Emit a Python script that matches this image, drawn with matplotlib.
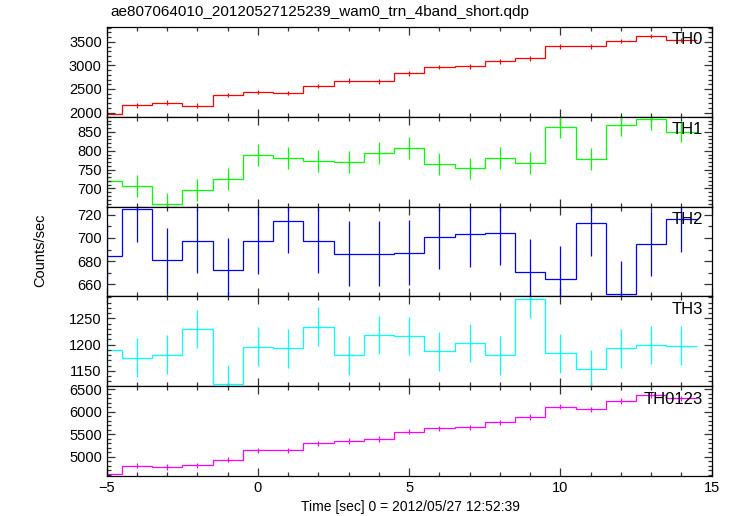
import numpy as np
import matplotlib.pyplot as plt
from matplotlib.ticker import MultipleLocator

plt.rcParams['font.family'] = ['Liberation Sans', 'DejaVu Sans']

# bin centres (1 s bins)
time = [-5, -4, -3, -2, -1, 0, 1, 2, 3, 4, 5, 6, 7, 8, 9, 10, 11, 12, 13, 14]

th0 = [1975, 2153, 2208, 2146, 2375, 2437, 2417, 2562, 2673, 2660,
       2833, 2965, 2979, 3090, 3152, 3402, 3402, 3520, 3624, 3541]
th1 = [719, 707, 659, 695, 726, 789, 781, 772, 771, 794,
       808, 765, 753, 781, 768, 863, 779, 868, 884, 851]
th2 = [684.9, 724.9, 680.9, 697.7, 672.3, 697.1, 714.9, 697.7, 686.3, 686.3,
       687.1, 700.9, 703.4, 704.3, 671.1, 665.1, 712.9, 652.0, 694.9, 716.3]
th3 = [1189.7, 1175, 1180.8, 1230, 1124.4, 1196, 1193.6, 1234, 1180, 1218.6,
       1216.7, 1187.8, 1203.2, 1180.1, 1287.8, 1184, 1153.8, 1193.6, 1199.4, 1198]
th0123 = [4609, 4801, 4771, 4808, 4934, 5140, 5140, 5295, 5347, 5391,
          5554, 5628, 5650, 5761, 5879, 6115, 6049, 6233, 6374, 6293]

# approximate 1-sigma errors per panel
err = {'TH0': 50, 'TH1': 29, 'TH2': 28, 'TH3': 37, 'TH0123': 60}

panels = [
    ('TH0', th0, '#ff0000', (1910, 3815), 500, 100),
    ('TH1', th1, '#00ff00', (652, 890), 50, 10),
    ('TH2', th2, '#0000ff', (649.7, 727), 20, 10),
    ('TH3', th3, '#00ffff', (1121, 1292), 50, 10),
    ('TH0123', th0123, '#ff00ff', (4572, 6566), 500, 100),
]

fig = plt.figure(figsize=(7.33, 5.16), dpi=100)
left, right = 106.7 / 733, 711.7 / 733
top_px, h_px = 27, 89.8

t = np.array(time)
edges = np.append(t - 0.5, t[-1] + 0.5)

axes = []
for i, (name, vals, col, ylim, major, minor) in enumerate(panels):
    y0 = 1 - (top_px + (i + 1) * h_px) / 516
    ax = fig.add_axes([left, y0, right - left, h_px / 516])
    ax.stairs(vals, edges, color=col, lw=0.9, baseline=None)
    ax.vlines(t, np.array(vals) - err[name], np.array(vals) + err[name],
              color=col, lw=0.9)
    ax.set_xlim(-5, 15)
    ax.set_ylim(*ylim)
    ax.xaxis.set_major_locator(MultipleLocator(5))
    ax.xaxis.set_minor_locator(MultipleLocator(1))
    ax.yaxis.set_major_locator(MultipleLocator(major))
    ax.yaxis.set_minor_locator(MultipleLocator(minor))
    ax.tick_params(which='both', direction='in', top=True, right=True,
                   labelsize=10.5, color='#333333', width=0.9)
    ax.tick_params(which='major', length=6)
    ax.tick_params(which='minor', length=3)
    for s in ax.spines.values():
        s.set_linewidth(0.9)
    ax.text(0.985, 0.94, name, transform=ax.transAxes, ha='right', va='top',
            fontsize=12)
    if i < len(panels) - 1:
        ax.tick_params(labelbottom=False)
    axes.append(ax)

fig.text(110 / 733, 1 - 12 / 516, 'ae807064010_20120527125239_wam0_trn_4band_short.qdp',
         ha='left', va='center', fontsize=11)
fig.text(40 / 733, 1 - 250 / 516, 'Counts/sec', rotation=90,
         ha='center', va='center', fontsize=10.5)
fig.text(410 / 733, 1 - 507 / 516, 'Time [sec] 0 = 2012/05/27 12:52:39',
         ha='center', va='center', fontsize=10)

plt.savefig('out.png', dpi=100)
